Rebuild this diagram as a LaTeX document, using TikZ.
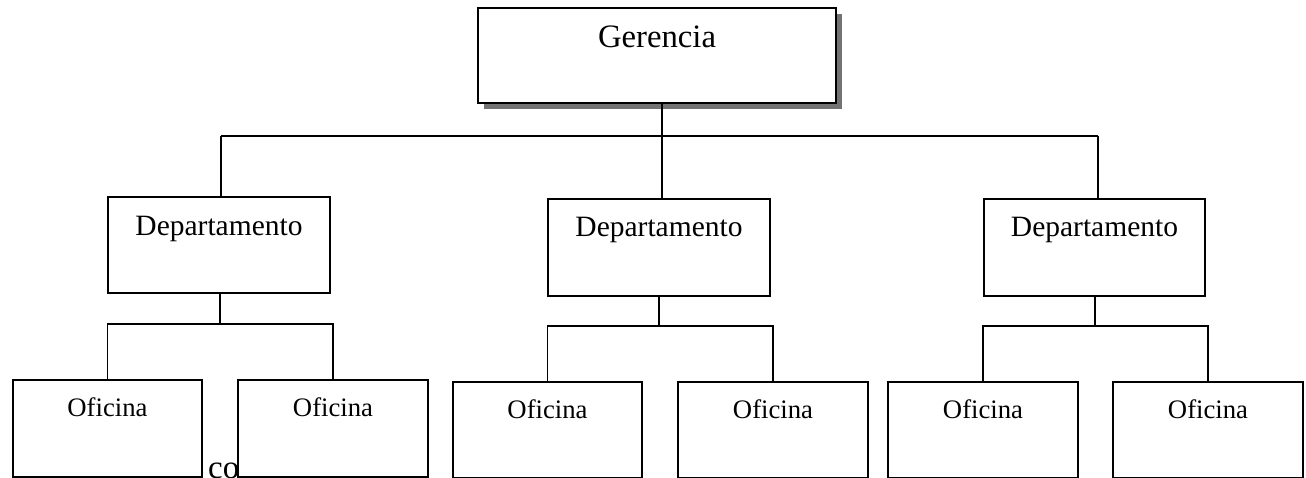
\documentclass[tikz,border=0pt]{standalone}
\usepackage{fontspec}
\setmainfont{Liberation Serif}
\usetikzlibrary{shadows}
\begin{document}
\begin{tikzpicture}[x=1pt,y=-1pt,
  box/.style={draw, line width=2pt, fill=white, inner sep=0pt,
    anchor=north west, align=center},
  topbox/.style={box, minimum width=358pt, text height=40pt, text depth=55pt,
    font=\fontsize{32.7}{38}\selectfont,
    drop shadow={shadow xshift=6pt, shadow yshift=-6pt, fill=black!55, opacity=1}},
  deptbox/.style={box, minimum width=222pt, text height=38pt, text depth=59pt,
    font=\fontsize{29.5}{35}\selectfont},
  officebox/.style={box, minimum width=190pt, text height=36pt, text depth=60pt,
    font=\fontsize{26.7}{31}\selectfont},
  link/.style={line width=1.8pt},
]
\useasboundingbox (0,0) rectangle (1306,478);
\fill[white] (0,0) rectangle (1306,478);

% caption line running underneath the lowest boxes
\node[anchor=base west, inner sep=0pt, font=\fontsize{33}{38}\selectfont] (tail) at (208,478) {co};

% top level
\node[topbox] (ger) at (477,7) {Gerencia};

% departments
\node[deptbox, text height=39pt, text depth=57pt] (d1) at (107,196) {Departamento};
\node[deptbox] (d2) at (547,198) {Departamento};
\node[deptbox, minimum width=221pt] (d3) at (983,198) {Departamento};

% offices
\node[officebox, minimum width=189pt, text depth=61pt] (oA) at (12,379) {Oficina};
\node[officebox, text depth=61pt] (oB) at (237,379) {Oficina};
\node[officebox, minimum width=189pt] (oC) at (452,381) {Oficina};
\node[officebox] (oD) at (677,381) {Oficina};
\node[officebox] (oE) at (887,381) {Oficina};
\node[officebox] (oF) at (1112,381) {Oficina};

% bus from the top box to the departments
\coordinate (busL) at (221,136);
\coordinate (busM) at (662,136);
\coordinate (busR) at (1098,136);
\draw[link] (busM |- ger.south) -- (busM);
\draw[link] (busL) -- (busR);
\draw[link] (busL) -- (busL |- d1.north);
\draw[link] (busM) -- (busM |- d2.north);
\draw[link] (busR) -- (busR |- d3.north);

% department to office branches
\coordinate (j1) at (220,324);
\coordinate (j2) at (659,326);
\coordinate (j3) at (1095,326);
\draw[link] (j1 |- d1.south) -- (j1);
\draw[link] (oA.north) -- (oA.north |- j1) -- (oB.north |- j1) -- (oB.north);
\draw[link] (j2 |- d2.south) -- (j2);
\draw[link] (oC.north) -- (oC.north |- j2) -- (oD.north |- j2) -- (oD.north);
\draw[link] (j3 |- d3.south) -- (j3);
\draw[link] (oE.north) -- (oE.north |- j3) -- (oF.north |- j3) -- (oF.north);
\end{tikzpicture}
\end{document}
